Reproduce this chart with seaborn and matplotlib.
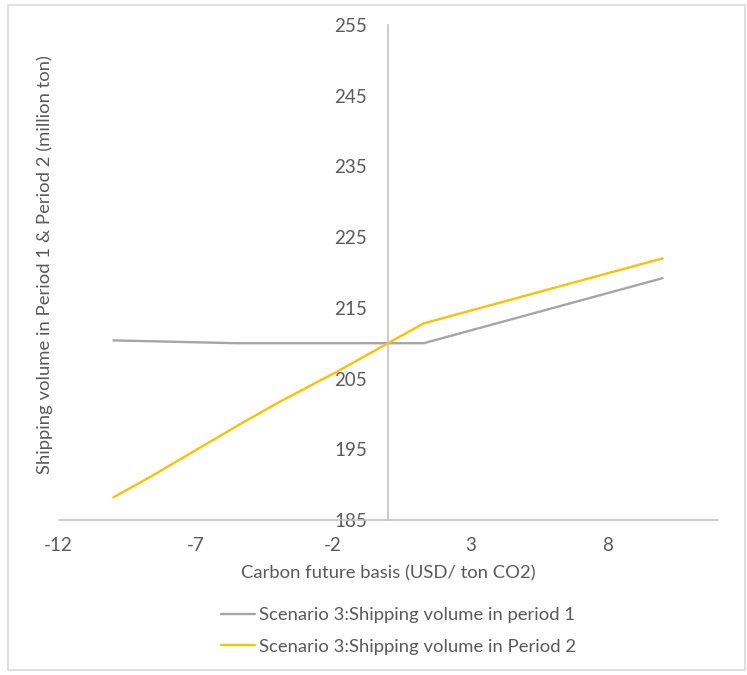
import matplotlib
matplotlib.use("Agg")
import matplotlib.pyplot as plt
from matplotlib.patches import Rectangle
import pandas as pd
import seaborn as sns

# Carbon future basis (USD / ton CO2)
period1_x = [-10, -5.5, 1.3, 10]
period1_y = [210.4, 210.0, 210.0, 219.2]

period2_x = [-10, -8.7, -5.5, -4, -1.75, 0, 1.3, 10]
period2_y = [188.2, 191.0, 198.3, 201.6, 206.2, 210.0, 212.8, 222.0]

series_names = ["Scenario 3:Shipping volume in period 1",
                "Scenario 3:Shipping volume in Period 2"]
series_colors = ["#a5a5a5", "#ffc000"]

x_ticks = [-12, -7, -2, 3, 8]
y_ticks = [185, 195, 205, 215, 225, 235, 245, 255]

df = pd.concat([
    pd.DataFrame({"x": period1_x, "y": period1_y, "series": series_names[0]}),
    pd.DataFrame({"x": period2_x, "y": period2_y, "series": series_names[1]}),
], ignore_index=True)

sns.set_theme(style="white")
plt.rcParams["font.family"] = ["Lato", "DejaVu Sans"]
plt.rcParams["axes.unicode_minus"] = False
text_color = "#595959"
axis_color = "#bfbfbf"
tick_fs = 13.5
text_fs = 13.3

W, H = 747, 675
fig = plt.figure(figsize=(W / 100, H / 100), dpi=100)
ax = fig.add_axes([58.5 / W, 1 - 520 / H, (717.5 - 58.5) / W, (520 - 25) / H])

sns.lineplot(data=df, x="x", y="y", hue="series", palette=series_colors,
             sort=False, estimator=None, linewidth=1.7, ax=ax, legend=False)

ax.set_xlim(-12, 12)
ax.set_ylim(185, 255)
ax.set_xticks(x_ticks)
ax.set_yticks(y_ticks)

for side in ("top", "right"):
    ax.spines[side].set_visible(False)
ax.spines["left"].set_position(("data", 0))
for side in ("left", "bottom"):
    ax.spines[side].set_color(axis_color)
    ax.spines[side].set_linewidth(1.1)

ax.tick_params(axis="y", length=0, pad=15, labelsize=tick_fs, labelcolor=text_color)
ax.tick_params(axis="x", length=0, pad=12, labelsize=tick_fs, labelcolor=text_color)
ax.grid(False)
ax.set_xlabel("")
ax.set_ylabel("")

fig.text(388 / W, 1 - 573 / H, "Carbon future basis (USD/ ton CO2)",
         ha="center", va="center", fontsize=text_fs, color=text_color)
fig.text(45 / W, 1 - 265 / H, "Shipping volume in Period 1 & Period 2 (million ton)",
         ha="center", va="center", rotation=90, fontsize=text_fs, color=text_color)

handles = [plt.Line2D([], [], color=c, linewidth=1.7) for c in series_colors]
leg = fig.legend(handles, series_names, loc="upper left",
                 bbox_to_anchor=(221 / W, 1 - 607 / H), frameon=False,
                 fontsize=text_fs, handlelength=1.85, handletextpad=0.2,
                 labelspacing=0.85, borderpad=0, borderaxespad=0)
for t in leg.get_texts():
    t.set_color(text_color)

fig.patches.append(Rectangle((8 / W, 1 - 670 / H), (745 - 8) / W, (670 - 5) / H,
                             transform=fig.transFigure, fill=False,
                             edgecolor="#d9d9d9", linewidth=1.2))

fig.savefig("out.png", dpi=100)
